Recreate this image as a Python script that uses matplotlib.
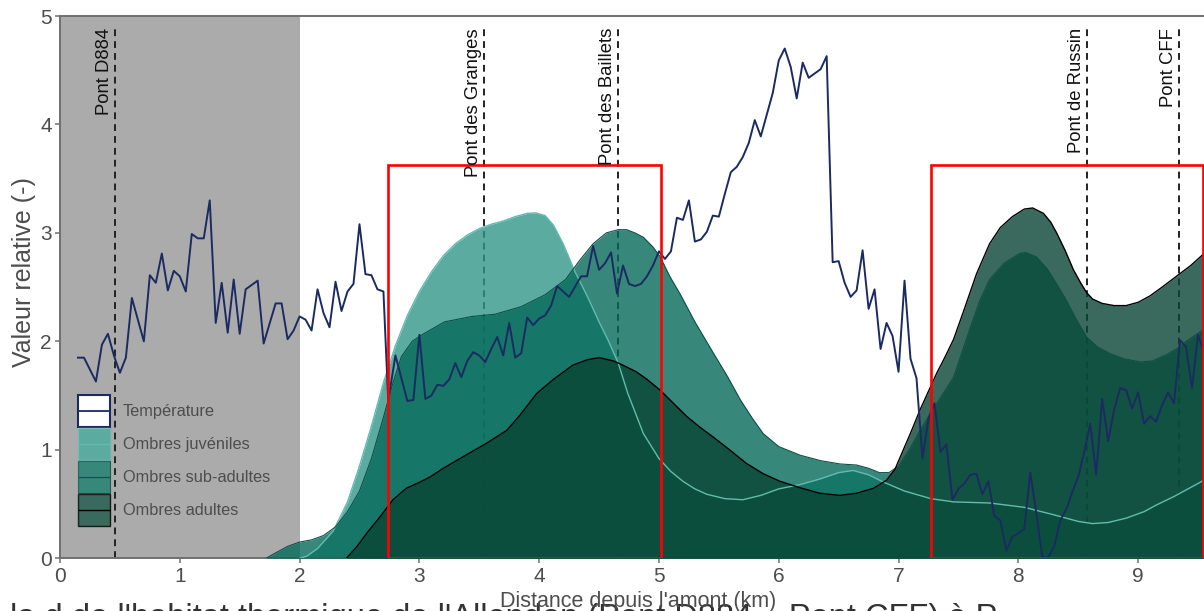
import matplotlib
matplotlib.use("Agg")
import matplotlib.pyplot as plt
from matplotlib.patches import Rectangle, Patch
from matplotlib.lines import Line2D
from matplotlib.legend_handler import HandlerBase

plt.rcParams['font.family'] = ['Liberation Sans', 'DejaVu Sans']

# Relative temperature along the river (km from upstream)
temp_km = [0.15, 0.20, 0.30, 0.35, 0.40, 0.45, 0.50, 0.55, 0.60, 0.70, 0.75, 0.80,
           0.85, 0.90, 0.95, 1.00, 1.05, 1.10, 1.15, 1.20, 1.25, 1.30, 1.35, 1.40,
           1.45, 1.50, 1.55, 1.65, 1.70, 1.80, 1.85, 1.90, 1.95, 2.00, 2.05, 2.10,
           2.15, 2.20, 2.25, 2.30, 2.35, 2.40, 2.45, 2.50, 2.55, 2.60, 2.65, 2.70,
           2.74, 2.80, 2.90, 2.95, 3.00, 3.05, 3.10, 3.15, 3.20, 3.25, 3.30, 3.35,
           3.40, 3.45, 3.50, 3.55, 3.60, 3.65, 3.70, 3.75, 3.80, 3.85, 3.90, 3.95,
           4.00, 4.05, 4.10, 4.15, 4.25, 4.35, 4.40, 4.45, 4.50, 4.55, 4.60, 4.65,
           4.70, 4.75, 4.80, 4.85, 4.90, 4.95, 5.00, 5.05, 5.10, 5.15, 5.20, 5.25,
           5.30, 5.35, 5.40, 5.45, 5.50, 5.55, 5.60, 5.65, 5.70, 5.75, 5.80, 5.85,
           5.90, 5.95, 6.00, 6.05, 6.10, 6.15, 6.20, 6.25, 6.30, 6.35, 6.40, 6.45,
           6.50, 6.55, 6.60, 6.65, 6.70, 6.75, 6.80, 6.85, 6.90, 6.95, 7.00, 7.05,
           7.10, 7.15, 7.20, 7.25, 7.30, 7.35, 7.40, 7.45, 7.50, 7.55, 7.60, 7.65,
           7.70, 7.75, 7.80, 7.85, 7.90, 7.95, 8.00, 8.05, 8.10, 8.15, 8.20, 8.25,
           8.30, 8.35, 8.40, 8.45, 8.50, 8.55, 8.60, 8.65, 8.70, 8.75, 8.80, 8.85,
           8.90, 8.95, 9.00, 9.05, 9.10, 9.15, 9.20, 9.25, 9.30, 9.35, 9.40, 9.45,
           9.50, 9.58]
temp_val = [1.85, 1.85, 1.63, 1.97, 2.07, 1.87, 1.71, 1.85, 2.40, 2.00, 2.61, 2.54,
            2.81, 2.47, 2.65, 2.60, 2.46, 2.99, 2.95, 2.95, 3.30, 2.17, 2.54, 2.08,
            2.57, 2.07, 2.48, 2.56, 1.98, 2.35, 2.35, 2.02, 2.10, 2.23, 2.20, 2.10,
            2.48, 2.26, 2.13, 2.55, 2.28, 2.46, 2.53, 3.08, 2.62, 2.61, 2.48, 2.46,
            1.45, 1.87, 1.45, 1.46, 2.06, 1.47, 1.50, 1.60, 1.59, 1.65, 1.80, 1.67,
            1.82, 1.90, 1.87, 1.81, 1.93, 2.04, 1.87, 2.17, 1.85, 1.89, 2.22, 2.15,
            2.21, 2.24, 2.33, 2.51, 2.41, 2.60, 2.60, 2.88, 2.66, 2.72, 2.82, 2.44,
            2.70, 2.53, 2.51, 2.53, 2.60, 2.70, 2.83, 2.76, 2.83, 3.14, 3.12, 3.30,
            2.92, 2.94, 3.01, 3.16, 3.15, 3.36, 3.56, 3.61, 3.70, 3.83, 4.04, 3.89,
            4.09, 4.29, 4.59, 4.70, 4.53, 4.24, 4.57, 4.43, 4.47, 4.51, 4.63, 2.73,
            2.74, 2.54, 2.41, 2.47, 2.84, 2.30, 2.48, 1.93, 2.17, 2.05, 1.72, 2.56,
            1.84, 1.66, 0.92, 1.29, 1.43, 0.98, 1.05, 0.54, 0.64, 0.69, 0.77, 0.78,
            0.59, 0.71, 0.39, 0.35, 0.07, 0.20, 0.23, 0.27, 0.79, 0.42, 0.01, 0.01,
            0.11, 0.35, 0.45, 0.61, 0.75, 0.98, 1.24, 0.77, 1.47, 1.08, 1.37, 1.57,
            1.55, 1.38, 1.53, 1.24, 1.31, 1.26, 1.41, 1.53, 1.43, 2.01, 1.95, 1.57,
            2.06, 1.80]

# Relative density of grayling per life stage
juv_km = [2.00, 2.06, 2.15, 2.28, 2.40, 2.50, 2.60, 2.70, 2.80, 2.90, 3.00, 3.10,
          3.20, 3.30, 3.40, 3.50, 3.60, 3.70, 3.80, 3.90, 3.97, 4.05, 4.12, 4.20,
          4.30, 4.40, 4.50, 4.58, 4.66, 4.74, 4.87, 5.00, 5.10, 5.20, 5.30, 5.40,
          5.55, 5.70, 5.85, 6.00, 6.18, 6.34, 6.50, 6.62, 6.75, 6.88, 7.05, 7.27,
          7.46, 7.76, 8.05, 8.30, 8.50, 8.62, 8.75, 8.90, 9.05, 9.15, 9.30, 9.45,
          9.60]
juv_val = [0.00, 0.02, 0.09, 0.25, 0.52, 0.85, 1.22, 1.62, 1.96, 2.24, 2.46, 2.64,
           2.79, 2.90, 2.98, 3.04, 3.08, 3.11, 3.15, 3.18, 3.185, 3.16, 3.07, 2.90,
           2.64, 2.42, 2.18, 2.00, 1.80, 1.52, 1.15, 0.92, 0.80, 0.71, 0.64, 0.59,
           0.55, 0.54, 0.58, 0.64, 0.68, 0.73, 0.79, 0.81, 0.77, 0.70, 0.62, 0.55,
           0.52, 0.51, 0.47, 0.40, 0.34, 0.32, 0.33, 0.37, 0.43, 0.49, 0.57, 0.66,
           0.75]

sub_km = [1.72, 1.80, 1.90, 2.00, 2.10, 2.20, 2.30, 2.40, 2.50, 2.60, 2.70, 2.78,
          2.85, 2.94, 3.02, 3.21, 3.44, 3.63, 3.85, 4.05, 4.22, 4.34, 4.45, 4.56,
          4.66, 4.73, 4.80, 4.87, 4.95, 5.01, 5.09, 5.18, 5.30, 5.45, 5.57, 5.68,
          5.78, 5.87, 6.00, 6.18, 6.35, 6.51, 6.65, 6.75, 6.84, 6.92, 7.00, 7.09,
          7.18, 7.32, 7.46, 7.53, 7.60, 7.68, 7.76, 7.88, 8.01, 8.06, 8.15, 8.24,
          8.32, 8.40, 8.48, 8.57, 8.66, 8.76, 8.88, 9.02, 9.12, 9.24, 9.32, 9.40,
          9.48, 9.60]
sub_val = [0.00, 0.05, 0.11, 0.15, 0.17, 0.21, 0.29, 0.43, 0.62, 0.92, 1.30, 1.62,
           1.86, 2.00, 2.06, 2.18, 2.23, 2.25, 2.32, 2.43, 2.57, 2.75, 2.90, 3.00,
           3.03, 3.03, 3.00, 2.96, 2.87, 2.78, 2.60, 2.43, 2.18, 1.90, 1.68, 1.46,
           1.29, 1.15, 1.03, 0.95, 0.90, 0.87, 0.86, 0.83, 0.79, 0.79, 0.85, 1.00,
           1.18, 1.43, 1.67, 1.90, 2.13, 2.38, 2.57, 2.72, 2.81, 2.82, 2.78, 2.67,
           2.53, 2.38, 2.21, 2.04, 1.95, 1.89, 1.84, 1.81, 1.82, 1.88, 1.93, 2.00,
           2.06, 2.15]

adu_km = [2.39, 2.48, 2.56, 2.67, 2.78, 2.89, 3.00, 3.09, 3.20, 3.37, 3.56, 3.73,
          3.84, 3.98, 4.12, 4.28, 4.40, 4.50, 4.62, 4.70, 4.81, 4.90, 5.01, 5.12,
          5.23, 5.34, 5.45, 5.59, 5.73, 5.87, 6.01, 6.18, 6.34, 6.51, 6.65, 6.79,
          6.90, 6.97, 7.04, 7.11, 7.18, 7.25, 7.32, 7.39, 7.46, 7.55, 7.65, 7.76,
          7.85, 7.95, 8.05, 8.12, 8.21, 8.27, 8.32, 8.39, 8.46, 8.52, 8.57, 8.62,
          8.70, 8.80, 8.90, 9.00, 9.10, 9.20, 9.32, 9.44, 9.60]
adu_val = [0.00, 0.11, 0.23, 0.38, 0.54, 0.645, 0.70, 0.75, 0.83, 0.94, 1.06, 1.18,
           1.32, 1.52, 1.65, 1.78, 1.83, 1.85, 1.82, 1.78, 1.72, 1.65, 1.55, 1.43,
           1.31, 1.21, 1.12, 1.00, 0.875, 0.78, 0.71, 0.65, 0.60, 0.58, 0.60, 0.645,
           0.72, 0.82, 1.00, 1.18, 1.37, 1.54, 1.71, 1.86, 2.02, 2.30, 2.62, 2.90,
           3.05, 3.15, 3.22, 3.23, 3.18, 3.10, 3.00, 2.84, 2.66, 2.54, 2.45, 2.39,
           2.35, 2.33, 2.33, 2.36, 2.42, 2.50, 2.60, 2.70, 2.86]

bridge_names = ["Pont D884", "Pont des Granges", "Pont des Baillets",
                "Pont de Russin", "Pont CFF"]
bridge_km = [0.46, 3.54, 4.66, 8.575, 9.345]

# Reaches outlined in red (km ranges) and their common height
zone_km = [(2.74, 5.015), (7.275, 9.54)]
zone_top = 3.625
# Upstream reach shaded in grey
shaded_km = (0.0, 2.0)

series_labels = ["Température", "Ombres juvéniles", "Ombres sub-adultes", "Ombres adultes"]

navy = "#1B2B62"
juv_fill, juv_edge = "#329689", "#62BBAE"
sub_fill, sub_edge = "#05695A", "#0F4F45"
adu_fill, adu_edge = "#094534", "#000000"
fill_alpha = 0.8
grey_txt = "#4D4D4D"


class CenteredLineHandler(HandlerBase):
    """Legend line drawn across the vertical middle of the key box."""

    def create_artists(self, legend, orig_handle, xdescent, ydescent,
                       width, height, fontsize, trans):
        y = -ydescent + height / 2.0
        ln = Line2D([-xdescent + 1, -xdescent + width - 1], [y, y],
                    color=orig_handle.get_color(),
                    lw=orig_handle.get_linewidth(), transform=trans)
        return [ln]


fig = plt.figure(figsize=(12.04, 6.11), dpi=100)
ax = fig.add_axes([60 / 1204, (611 - 558.3) / 611, 1144 / 1204, 542.3 / 611])
ax.set_xlim(0, 9.55)
ax.set_ylim(0, 5)

ax.axvspan(*shaded_km, color="#ABABAB", lw=0, zorder=0)

for km in bridge_km:
    ax.plot([km, km], [0, 4.92], color="#222222", lw=1.4,
            linestyle=(0, (3.5, 2.6)), zorder=1)

ax.fill_between(juv_km, 0, juv_val, color=juv_fill, alpha=fill_alpha, lw=0, zorder=2)
ax.fill_between(sub_km, 0, sub_val, color=sub_fill, alpha=fill_alpha, lw=0, zorder=3)
ax.fill_between(adu_km, 0, adu_val, color=adu_fill, alpha=fill_alpha, lw=0, zorder=4)
ax.plot(juv_km, juv_val, color=juv_edge, lw=1.0, zorder=5)
ax.plot(sub_km, sub_val, color=sub_edge, lw=0.8, zorder=5)
ax.plot(adu_km, adu_val, color=adu_edge, lw=1.0, zorder=5)

ax.plot(temp_km, temp_val, color=navy, lw=1.4, zorder=6)

for x0, x1 in zone_km:
    ax.add_patch(Rectangle((x0, 0.005), x1 - x0, zone_top - 0.005, fill=False,
                           edgecolor="#FF0000", lw=1.9, zorder=7))

for name, km in zip(bridge_names, bridge_km):
    ax.annotate(name, xy=(km, 4.89), xytext=(-1.5, 0), textcoords="offset points",
                rotation=90, ha="right", va="top", fontsize=13.3,
                color="#111111", zorder=8)

# Axes styling
for side in ("left", "bottom", "top"):
    ax.spines[side].set_color("#707070")
    ax.spines[side].set_linewidth(1.4)
ax.spines["right"].set_visible(False)
ax.set_xticks(range(0, 10))
ax.set_yticks(range(0, 6))
ax.tick_params(axis="both", colors="#707070", labelcolor=grey_txt,
               labelsize=15, length=3.5, width=1.1, pad=2.5)

fig.text(24 / 1204, 1 - 272 / 611, "Valeur relative (-)", rotation=90,
         ha="center", va="center", fontsize=18, color=grey_txt)
fig.text(10 / 1204, -16 / 611,
         "la d de l'habitat thermique de l'Allondon (Pont D884 – Pont CFF) à P",
         ha="left", va="baseline", fontsize=23.5, color="#333333")
fig.text(638 / 1204, 4.5 / 611, "Distance depuis l'amont (km)", ha="center",
         va="baseline", fontsize=15.5, color=grey_txt)

# Legend
white_bg = Patch(facecolor="white", edgecolor="none")
handles = [
    (Patch(facecolor="white", edgecolor=navy, lw=1.5), Line2D([], [], color=navy, lw=1.3)),
    (white_bg, Patch(facecolor=juv_fill, alpha=fill_alpha, edgecolor=juv_edge, lw=1.0),
     Line2D([], [], color=juv_edge, lw=1.0)),
    (white_bg, Patch(facecolor=sub_fill, alpha=fill_alpha, edgecolor=sub_edge, lw=0.8),
     Line2D([], [], color=sub_edge, lw=0.8)),
    (white_bg, Patch(facecolor=adu_fill, alpha=fill_alpha, edgecolor=adu_edge, lw=1.0),
     Line2D([], [], color=adu_edge, lw=1.0)),
]
leg = ax.legend(handles, series_labels, loc="upper left",
                bbox_to_anchor=((78 - 60) / 1144, (558.3 - 395) / 542.3),
                frameon=False, borderpad=0, borderaxespad=0, fontsize=11.8,
                handlelength=1.95, handleheight=2.63, labelspacing=0.05,
                handletextpad=0.8, handler_map={Line2D: CenteredLineHandler()})
for t in leg.get_texts():
    t.set_color(grey_txt)
leg.set_zorder(9)

fig.savefig("out.png", dpi=100)
